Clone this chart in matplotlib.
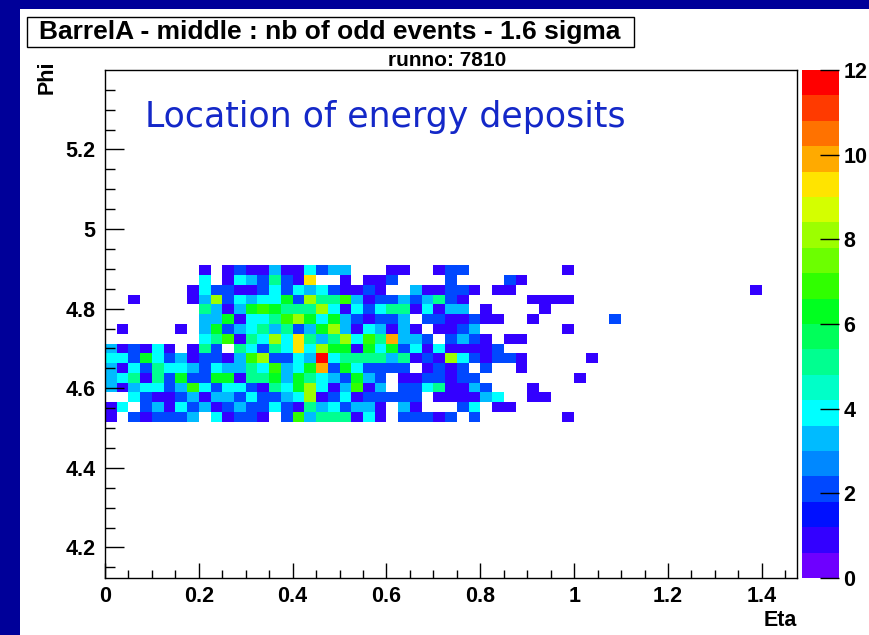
import numpy as np
import matplotlib
matplotlib.use('Agg')
import matplotlib.pyplot as plt
from matplotlib.colors import ListedColormap, BoundaryNorm
from matplotlib.patches import Rectangle
from matplotlib.ticker import MultipleLocator

# binning of the middle layer: eta 0.025, phi 2pi/256
eta_edges = np.linspace(0.0, 1.475, 60)
phi_step = 2 * np.pi / 256
phi_lo_bin, phi_hi_bin = 168, 220
first_data_bin = 184          # lowest phi bin in the rows below

# counts per cell, top row (high phi) first; '.'=0, a=10, c=12
rows = [
    "........1.12113114233...11..122........1",
    "........4.14325219..1.112....2....21",
    ".......14221124243421121..311221.11....................1",
    "..1....138243446285573122323521.....1111",
    "........53136765558414245514133.1....1",
    "........336144578646321223.2211211..1......2",
    ".1....1.3623453523683143131.1123.......1",
    "........4571548495358475a332.2321.11",
    "312141.152.54254948661646241411112",
    "442642312213782243c45555351218421221.....1",
    "314254432433547346a2642222.1212.2..1",
    "345152622661556365432632.1122122........1",
    "313442374244215468413713.22451132...1",
    "..4211231332422348124122222.111134..11",
    "14.231423123224215342331.31...24.11",
    "1.212223.41221.273555141.22212.2.......1",
]

z_min, z_max = 0, 12
n_levels = 20

# ROOT-like 20 colour palette, bottom to top
palette = [
    "#6e00ff", "#3300ff", "#0010ff", "#0048ff", "#0088ff",
    "#00bbff", "#00ffff", "#00ffc8", "#00ff90", "#00ff5a",
    "#00ff20", "#30ff00", "#6cff00", "#9cff00", "#d4ff00",
    "#ffe400", "#ffaa00", "#ff7200", "#ff3a00", "#ff0000",
]


def to_num(ch):
    if ch == ".":
        return 0
    return int(ch, 16)


n_eta = len(eta_edges) - 1
counts = np.zeros((phi_hi_bin - phi_lo_bin, n_eta))
for i, line in enumerate(rows[::-1]):
    for j, ch in enumerate(line):
        counts[first_data_bin - phi_lo_bin + i, j] = to_num(ch)
phi_edges = np.arange(phi_lo_bin, phi_hi_bin + 1) * phi_step

plt.rcParams['font.family'] = ['Liberation Sans', 'DejaVu Sans']
plt.rcParams['font.weight'] = 'bold'

W, H = 869, 635
fig = plt.figure(figsize=(W / 100, H / 100), dpi=100)
fig.patch.set_facecolor('#000099')
fig.add_artist(Rectangle((20 / W, 0), 1, 1 - 9 / H, transform=fig.transFigure,
                         facecolor='white', edgecolor='none', zorder=-10))

ax = fig.add_axes([105 / W, 57 / H, 692 / W, 508 / H])
cax = fig.add_axes([802 / W, 57 / H, 37 / W, 508 / H])

bounds = np.linspace(z_min, z_max, n_levels + 1)
bounds[1:-1] -= 1e-9
cmap = ListedColormap(palette)
norm = BoundaryNorm(bounds, cmap.N)

mesh = ax.pcolormesh(eta_edges, phi_edges, np.ma.masked_equal(counts, 0),
                     cmap=cmap, norm=norm)
ax.set_xlim(eta_edges[0], eta_edges[-1])
ax.set_ylim(phi_edges[0], phi_edges[-1])

ax.xaxis.set_minor_locator(MultipleLocator(0.05))
ax.yaxis.set_minor_locator(MultipleLocator(0.05))
ax.set_xticks(np.arange(0, 1.41, 0.2))
ax.set_xticklabels(['0', '0.2', '0.4', '0.6', '0.8', '1', '1.2', '1.4'])
ax.set_yticks(np.arange(4.2, 5.21, 0.2))
ax.set_yticklabels(['4.2', '4.4', '4.6', '4.8', '5', '5.2'])
ax.tick_params(axis='x', which='major', direction='in', length=11, width=1,
               labelsize=15.5, pad=6)
ax.tick_params(axis='x', which='minor', direction='in', length=5.5, width=1)
ax.tick_params(axis='y', which='major', direction='in', length=14, width=1,
               labelsize=15.5, pad=7)
ax.tick_params(axis='y', which='minor', direction='in', length=7, width=1)
for s in ax.spines.values():
    s.set_linewidth(1)

# axis titles at the axis ends, ROOT style
fig.text(797 / W, 1 - 620 / H, 'Eta', ha='right', va='center',
         fontsize=15.5, fontweight='bold')
fig.text(47 / W, 1 - 61 / H, 'Phi', rotation=90, ha='center', va='top',
         fontsize=15.5, fontweight='bold')

cb = fig.colorbar(mesh, cax=cax, ticks=np.arange(0, 13, 2))
cb.ax.tick_params(direction='in', length=14, width=1, labelsize=15.5, pad=3)
cb.ax.set_yticklabels([str(v) for v in range(0, 13, 2)])
cb.outline.set_visible(False)
cax.minorticks_off()

# title box and run number
fig.add_artist(Rectangle((27 / W, 1 - 47 / H), 607 / W, 30 / H,
                         transform=fig.transFigure, facecolor='white',
                         edgecolor='black', linewidth=1))
fig.text(330 / W, 1 - 32 / H, 'BarrelA - middle : nb of odd events - 1.6 sigma',
         ha='center', va='center', fontsize=19, fontweight='bold')
fig.text(447 / W, 1 - 60 / H, 'runno: 7810', ha='center', va='center',
         fontsize=15, fontweight='bold')

fig.text(145 / W, 1 - 117 / H, 'Location of energy deposits',
         ha='left', va='center', fontsize=25, fontweight='normal',
         color='#1428c8', family='DejaVu Sans')

fig.savefig('out.png', dpi=100, facecolor=fig.get_facecolor())
